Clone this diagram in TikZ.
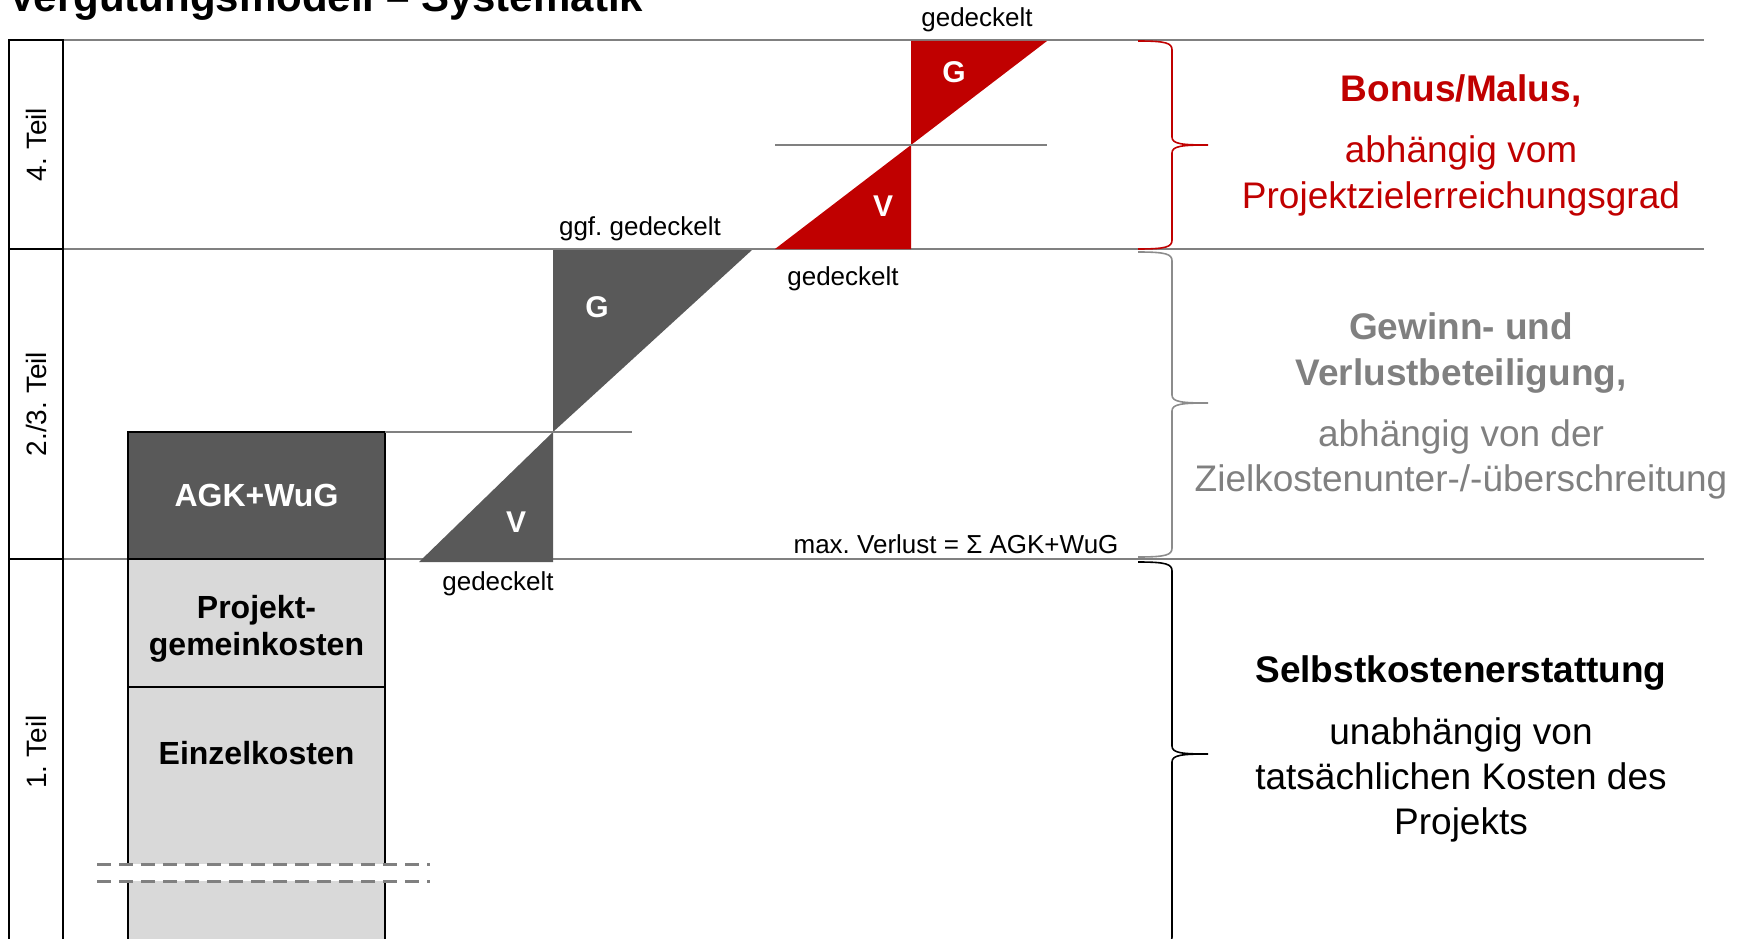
\documentclass[tikz,border=0pt]{standalone}
\usepackage{fontspec}
\setmainfont{Liberation Sans}
\frenchspacing
\definecolor{dred}{HTML}{C00000}
\definecolor{dgray}{HTML}{595959}
\definecolor{lgray}{HTML}{D9D9D9}
\definecolor{mgray}{HTML}{808080}
\definecolor{bgray}{HTML}{8C8C8C}

\begin{document}
\begin{tikzpicture}[x=1pt, y=-1pt,
		sep/.style={mgray, line width=2pt},
		costbox/.style={draw, line width=1.2pt, fill=lgray},
		costtext/.style={inner sep=0pt, align=center, font=\bfseries\fontsize{32}{37}\selectfont},
		teil/.style={draw, line width=2pt, rotate=90, minimum height=54pt, inner sep=0pt, font=\fontsize{28}{32}\selectfont},
		note/.style={anchor=base, inner sep=0pt, font=\fontsize{26}{30}\selectfont},
		tri/.style={text=white, inner sep=0pt, font=\bfseries\fontsize{30}{34}\selectfont},
		head/.style={anchor=base, inner sep=0pt, font=\bfseries\fontsize{37}{44}\selectfont},
		body/.style={anchor=base, inner sep=0pt, font=\fontsize{37}{44}\selectfont}]
		\useasboundingbox (0,0) rectangle (1746,939);
		
		\node[anchor=base west, inner sep=0pt, font=\bfseries\fontsize{42}{50}\selectfont] (title) at (8,12) {Vergütungsmodell – Systematik};
		
		\foreach \y in {40, 249, 559}
		\draw[sep] (63,\y) -- (1704,\y);
		
		% Teile links
		\node[teil, minimum width=209pt] (t4) at (36,144.5) {4. Teil};
		\node[teil, minimum width=310pt] (t23) at (36,404) {2./3. Teil};
		\node[teil, minimum width=386pt] (t1) at (36,752) {1. Teil};
		
		% Kostenblock
		\draw[costbox] (128,687) rectangle (385,960);
		\draw[costbox] (128,559) rectangle (385,687);
		\draw[costbox, fill=dgray] (128,432) rectangle (385,559);
		\node[costtext] (ek) at (256.5,753) {Einzelkosten};
		\node[costtext, text=white] (agk) at (256.5,495) {AGK+WuG};
		\node[costtext] (pgk) at (256.5,629) {Projekt-\\gemeinkosten};
		\fill[white] (97,864) rectangle (424,881);
		\foreach \y in {864, 881}
		\draw[mgray, line width=3pt, dash pattern=on 14pt off 8pt] (97,\y) -- (430,\y);
		
		% Gewinn/Verlust
		\fill[dgray] (553,250) -- (752,250) -- (553,432) -- cycle;
		\fill[dgray] (419,562) -- (553,562) -- (553,432) -- cycle;
		\draw[sep] (385,432) -- (632,432);
		\node[tri] (g23) at (597,307) {G};
		\node[tri] (v23) at (516,522) {V};
		
		% Bonus/Malus
		\fill[dred] (911,41) -- (1047,41) -- (911,145) -- cycle;
		\fill[dred] (775,249) -- (911,249) -- (911,145) -- cycle;
		\draw[sep] (775,145) -- (1047,145);
		\node[tri] (g4) at (954,72) {G};
		\node[tri] (v4) at (883,206) {V};
		
		\node[note] (n1) at (977,27) {gedeckelt};
		\node[note] (n2) at (640,235) {ggf. gedeckelt};
		\node[note] (n3) at (843,285) {gedeckelt};
		\node[note] (n4) at (498,590) {gedeckelt};
		\node[note] (n5) at (956,553) {max. Verlust = Σ AGK+WuG};
		
		% Klammern
		\foreach \a/\m/\b/\c in {41/145/249/dred, 252/403/557/bgray, 562/754/946/black}
		\draw[\c, line width=1.6pt] (1138,\a) .. controls (1166,\a) and (1172,\a+2) .. (1172,\a+9)
		-- (1172,\m-8) .. controls (1172,\m-1) and (1182,\m) .. (1208,\m)
		.. controls (1182,\m) and (1172,\m+1) .. (1172,\m+8)
		-- (1172,\b-9) .. controls (1172,\b-2) and (1166,\b) .. (1138,\b);
		
		\foreach \y/\s/\t in {102/head/{Bonus/Malus,}, 163/body/abhängig vom, 208/body/Projektzielerreichungsgrad}
		\node[\s, text=dred] (r\y) at (1461,\y) {\t};
		
		\foreach \y/\s/\t in {339/head/Gewinn- und, 385/head/{Verlustbeteiligung,}, 446/body/abhängig von der, 491/body/{Zielkostenunter-/-überschreitung}}
		\node[\s, text=mgray] (g\y) at (1461,\y) {\t};
		
		\foreach \y/\s/\t in {682/head/Selbstkostenerstattung, 744/body/unabhängig von, 789/body/tatsächlichen Kosten des, 834/body/Projekts}
		\node[\s] (s\y) at (1461,\y) {\t};
	\end{tikzpicture}
\end{document}
